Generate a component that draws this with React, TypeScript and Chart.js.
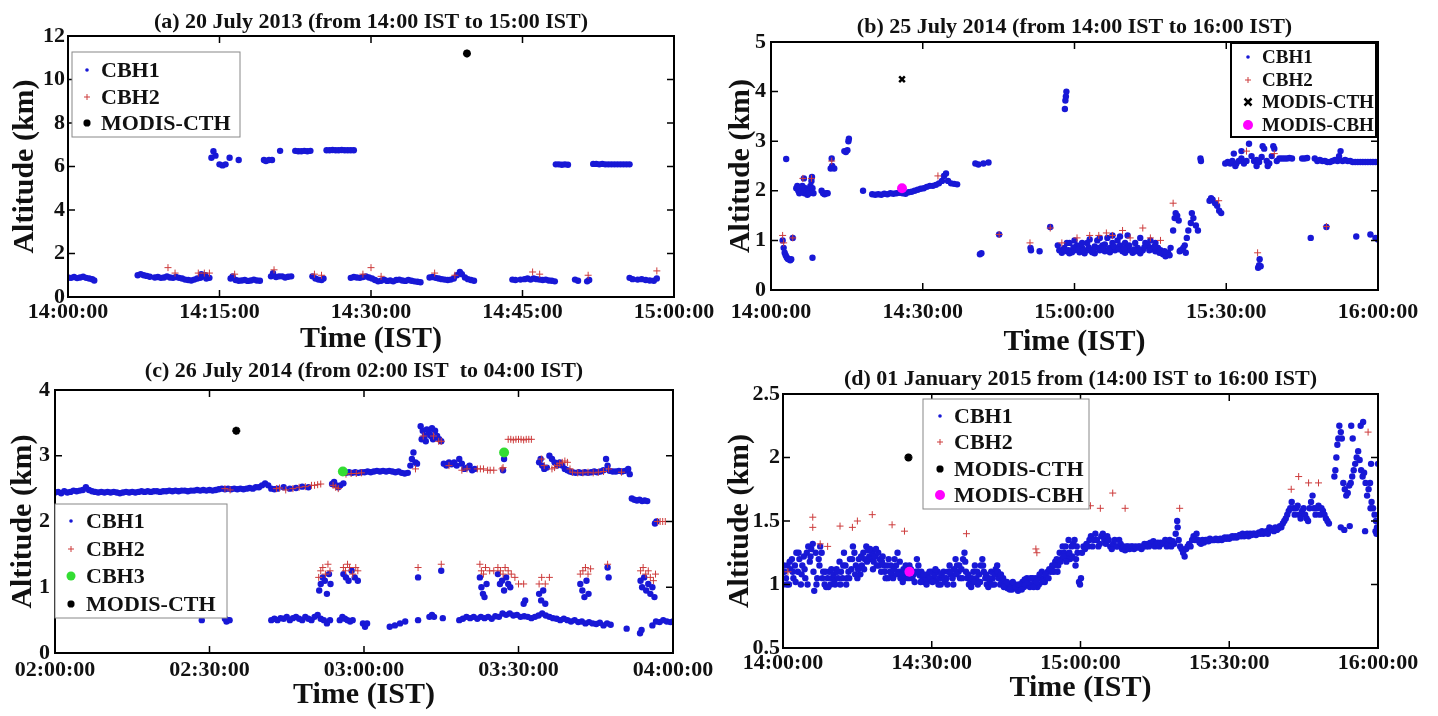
import React, { useEffect, useRef } from 'react';
import { Chart, registerables } from 'chart.js';
Chart.register(...registerables);

type P = [number, number];

// ---------- Panel (a) 20 July 2013, minutes after 14:00 ----------
const aCbh1: P[] = [
  [0,0.9],[0.3,0.88],[0.6,0.92],[0.9,0.87],[1.2,0.9],[1.5,0.93],[1.8,0.88],[2.1,0.85],[2.4,0.82],[2.6,0.76],
  [6.9,1.0],[7.2,1.05],[7.5,1.0],[7.8,0.97],[8.1,0.93],
  [8.6,0.9],[8.9,0.92],[9.2,0.88],[9.5,0.9],[9.8,0.95],[10.1,0.9],[10.4,0.88],[10.7,0.92],[11.0,0.88],[11.3,0.85],[11.6,0.8],[11.9,0.78],[12.2,0.76],[12.5,0.8],[12.8,0.85],[13.1,0.88],[13.4,0.95],[13.7,0.85],[14.0,0.88],[13.2,1.05],[13.6,1.0],
  [16.1,0.85],[16.3,0.95],[16.6,0.78],[16.9,0.75],[17.2,0.76],[17.5,0.78],[17.8,0.74],[18.1,0.76],[18.4,0.8],[18.7,0.76],[19.0,0.75],
  [20.1,0.95],[20.3,1.1],[20.6,0.92],[20.9,0.95],[21.2,0.95],[21.5,0.9],[21.8,0.93],[22.1,0.95],
  [24.2,0.95],[24.5,0.85],[24.8,0.8],[25.1,0.78],[25.3,0.85],
  [28.0,0.88],[28.3,0.92],[28.6,0.9],[28.9,0.88],[29.2,0.92],[29.5,0.95],[29.8,0.9],
  [30.1,0.85],[30.4,0.78],[30.7,0.72],[31.0,0.75],[31.3,0.8],[31.6,0.74],[31.9,0.76],[32.2,0.72],[32.5,0.78],[32.8,0.8],[33.1,0.76],[33.4,0.74],[33.7,0.78],[34.0,0.75],[34.3,0.72],[34.6,0.7],[34.9,0.68],
  [35.8,0.9],[36.1,0.92],[36.4,0.88],[36.7,0.85],[37.0,0.82],[37.3,0.8],[37.6,0.78],[37.9,0.8],[38.2,0.85],[38.5,1.0],[38.8,1.15],[39.0,1.05],[39.3,0.9],[39.6,0.82],[39.9,0.78],[40.2,0.75],
  [44.0,0.8],[44.3,0.78],[44.8,0.8],[45.2,0.82],[45.5,0.85],[45.8,0.8],[46.1,0.85],[46.4,0.82],[46.7,0.8],[47.0,0.78],[47.3,0.8],[47.6,0.76],[47.9,0.75],[48.2,0.72],
  [50.2,0.8],[50.5,0.75],[51.4,0.72],[51.6,0.78],
  [55.6,0.88],[55.9,0.82],[56.4,0.8],[56.8,0.82],[57.2,0.78],[57.6,0.76],[58.0,0.75],[58.3,0.85],
  [14.2,6.4],[14.4,6.7],[14.6,6.5],[15.0,6.1],[15.3,6.05],[15.6,6.1],[16.0,6.4],[16.9,6.3],
  [19.4,6.3],[19.6,6.25],[19.9,6.3],[20.2,6.3],[21.0,6.72],
  [22.5,6.72],[22.8,6.7],[23.1,6.7],[23.4,6.72],[23.7,6.7],[24.0,6.72],
  [25.6,6.75],[25.9,6.75],[26.2,6.76],[26.5,6.75],[26.8,6.75],[27.1,6.76],[27.4,6.75],[27.7,6.75],[28.0,6.75],[28.3,6.75],
  [48.3,6.1],[48.6,6.1],[48.9,6.08],[49.2,6.1],[49.5,6.08],
  [52.0,6.12],[52.3,6.12],[52.6,6.1],[52.9,6.12],[53.2,6.1],[53.5,6.1],[53.8,6.1],[54.1,6.1],[54.4,6.1],[54.7,6.1],[55.0,6.1],[55.3,6.1],[55.6,6.1],
];
const aCbh2: P[] = [
  [9.9,1.35],[10.6,1.1],[12.9,1.1],[13.5,1.1],[14.0,1.1],[16.5,1.05],[20.4,1.25],[24.4,1.05],[25.1,1.0],
  [29.2,1.05],[30.0,1.35],[31.0,0.95],[36.3,1.1],[38.3,1.0],[46.0,1.15],[46.7,1.05],[51.5,1.0],[58.3,1.2],
];
const aCth: P[] = [[39.5,11.2]];

// ---------- Panel (b) 25 July 2014, minutes after 14:00 ----------
const bCbh1: P[] = [
  [2.3,1.0],[2.5,0.85],[2.7,0.75],[2.9,0.7],[3.1,0.66],[3.3,0.63],[3.5,0.62],[3.8,0.6],[4.0,0.62],[4.3,1.05],[3.0,2.64],
  [5.0,2.05],[5.2,2.1],[5.4,2.0],[5.6,1.95],[5.8,2.05],[6.0,2.0],[6.2,2.1],[6.4,1.98],[6.6,1.95],[6.8,2.05],[7.0,2.0],[7.2,1.92],[7.4,2.0],[7.6,1.95],[7.8,2.1],[8.0,2.2],[8.2,2.05],[8.4,1.95],[6.5,2.25],[8.1,2.28],[8.2,0.65],
  [10.0,2.0],[10.3,1.95],[10.6,1.93],[10.9,1.95],[11.2,1.95],
  [11.8,2.45],[12.1,2.5],[12.5,2.45],[12.0,2.65],
  [14.5,2.8],[14.8,2.78],[15.1,2.82],[15.3,3.0],[15.4,3.05],[18.2,2.0],
  [20.0,1.93],[20.6,1.92],[21.2,1.93],[21.8,1.92],[22.4,1.94],[23.0,1.93],[23.6,1.95],[24.2,1.94],[24.8,1.95],[25.4,1.96],[26.0,1.95],[26.6,1.94],[27.2,1.97],[27.8,1.98],[28.4,2.0],[29.0,2.02],[29.6,2.04],[30.2,2.05],[30.8,2.08],[31.4,2.1],[32.0,2.1],[32.6,2.12],[33.2,2.15],[33.8,2.2],[34.2,2.3],[34.6,2.35],[35.0,2.2],[35.6,2.15],[36.2,2.14],[36.8,2.13],
  [40.4,2.55],[41.0,2.53],[42.0,2.55],[43.0,2.57],[41.3,0.72],[41.6,0.74],[45.1,1.12],
  [51.3,0.85],[51.4,0.8],[53.1,0.78],[55.2,1.27],[56.7,0.9],[57.0,0.8],[58.1,3.65],[58.2,3.82],[58.3,3.9],[58.4,4.0],
  [57.5,0.75],[58.0,0.85],[58.5,0.78],[59.0,0.95],[59.5,0.76],[60.0,0.8],[60.5,0.9],[61.0,0.76],[61.5,0.85],[62.0,0.78],[62.5,0.95],[63.0,0.8],[63.5,0.76],[64.0,0.88],[64.5,1.0],[65.0,0.8],[65.5,0.9],[66.0,0.78],[66.5,1.05],[67.0,0.85],[67.5,0.95],[68.0,0.8],[68.5,1.0],[69.0,0.9],[69.5,0.78],[70.0,0.95],[70.5,0.85],[71.0,0.8],[71.5,0.75],[72.0,0.78],[72.5,0.85],[73.0,0.76],[73.5,0.8],[74.0,0.95],[74.5,0.9],[75.0,0.85],[75.5,0.82],[76.0,0.78],[76.5,0.85],[77.0,0.8],[77.5,0.72],[78.0,0.68],[78.5,0.75],[79.0,0.85],[79.5,1.2],[79.8,1.45],[80.0,1.55],[80.3,1.5],[80.6,1.4],[81.0,0.8],[81.5,0.85],[82.0,0.75],
  [58.5,0.95],[60.0,1.0],[61.5,0.95],[63.0,1.02],[65.0,1.05],[66.0,0.92],[67.5,1.1],[69.0,1.08],[70.5,1.1],[72.0,0.95],[73.0,1.05],[75.0,1.0],[76.0,0.95],
  [59.0,0.74],[62.0,0.74],[64.0,0.74],[67.0,0.76],[70.0,0.75],[73.0,0.74],
  [57.8,0.82],[58.8,0.8],[59.8,0.86],[60.8,0.82],[61.8,0.8],[62.8,0.86],[63.8,0.82],[64.8,0.85],[65.8,0.84],[66.8,0.8],[67.8,0.88],[68.8,0.82],[69.8,0.84],[70.8,0.9],[71.8,0.82],[72.8,0.8],[73.8,0.86],[74.8,0.8],[75.8,0.88],[76.8,0.75],[77.8,0.78],[78.8,0.7],[80.8,0.78],[81.8,0.9],[82.2,1.05],
  [82.5,1.2],[83.0,1.35],[83.5,1.45],[84.0,1.3],[84.4,1.2],[83.2,1.55],[84.9,2.65],[85.0,2.6],
  [86.7,1.8],[87.0,1.85],[87.3,1.82],[87.8,1.75],[88.2,1.7],[88.6,1.6],[89.0,1.55],
  [89.8,2.55],[90.3,2.58],[90.8,2.55],[91.2,2.6],[91.5,2.75],[92.0,2.55],[92.5,2.6],[93.0,2.65],[93.5,2.55],[94.0,2.6],[94.5,2.95],[95.0,2.7],[95.5,2.6],[96.0,2.62],[96.5,2.58],[97.0,2.68],[97.5,2.85],[98.0,2.6],[98.5,2.55],[99.0,2.7],[99.5,2.85],[100.0,2.6],[100.5,2.65],[101.0,2.65],[101.5,2.65],[102.0,2.65],[102.5,2.66],[103.0,2.65],[105.0,2.65],[105.5,2.65],[106.0,2.66],[107.5,2.65],[108.0,2.6],[108.5,2.62],[109.0,2.6],[109.5,2.6],[110.0,2.58],[110.5,2.58],[111.0,2.6],[111.5,2.62],[112.0,2.6],[112.3,2.7],[112.6,2.8],[113.0,2.6],[113.5,2.62],[114.0,2.6],[114.5,2.6],[115.0,2.58],[115.5,2.58],[116.0,2.58],[116.5,2.58],[117.0,2.58],[117.5,2.58],[118.0,2.58],[118.5,2.58],[119.0,2.58],[119.5,2.58],[120,2.58],
  [91.8,2.5],[96.0,2.5],[98.2,2.5],[93.0,2.8],[97.2,2.9],[99.3,2.9],
  [96.3,0.45],[96.5,0.5],[96.8,0.48],[96.6,0.62],[106.7,1.05],[109.8,1.27],[115.7,1.08],[118.5,1.12],[119.5,1.05],[120,1.02],
];
const bCbh2: P[] = [
  [2.3,1.1],[2.5,0.95],[4.3,1.05],[6.3,2.25],[8.0,2.25],[12.0,2.6],[33.0,2.3],[45.1,1.12],[51.2,0.95],[55.2,1.25],[57.5,0.95],[60.5,1.05],[63.0,1.1],[64.8,1.1],[66.3,1.15],[67.5,1.1],[69.5,1.2],[71.0,1.05],[73.5,1.25],[75.0,1.05],[77.0,1.0],[79.5,1.75],[88.5,1.8],[96.2,0.75],[109.8,1.28],[94.0,2.8],[99.5,2.75],
];
const bCth: P[] = [[25.9,4.25]];
const bModisCbh: P[] = [[25.9,2.05]];

// ---------- Panel (c) 26 July 2014, minutes after 02:00 ----------
const cCbh1: P[] = [
  [0,2.44],[0.6,2.45],[1.2,2.43],[1.8,2.46],[2.4,2.44],[3.0,2.45],[3.6,2.47],[4.2,2.46],[4.8,2.47],[5.4,2.48],[6.0,2.52],[6.6,2.48],[7.2,2.46],[7.8,2.45],[8.4,2.44],[9.0,2.45],[9.6,2.44],[10.2,2.45],[10.8,2.44],[11.4,2.45],[12.0,2.44],[12.6,2.43],[13.2,2.44],[13.8,2.45],[14.4,2.44],[15.0,2.45],[15.6,2.44],[16.2,2.45],[16.8,2.46],[17.4,2.45],[18.0,2.46],[18.6,2.45],[19.2,2.46],[19.8,2.46],[20.4,2.45],[21.0,2.46],[21.6,2.46],[22.2,2.47],[22.8,2.46],[23.4,2.47],[24.0,2.46],[24.6,2.47],[25.2,2.47],[25.8,2.46],[26.4,2.47],[27.0,2.47],[27.6,2.48],[28.2,2.47],[28.8,2.48],[29.4,2.47],[30.0,2.48],[30.6,2.47],[31.2,2.48],[31.8,2.49],[32.4,2.5],[33.0,2.49],[33.6,2.5],[34.2,2.49],[34.8,2.5],[35.4,2.49],[36.0,2.5],[36.6,2.49],[37.2,2.5],[37.8,2.51],[38.4,2.5],[39.0,2.52],[39.6,2.52],[40.2,2.55],[40.8,2.58],[41.4,2.55],[42.0,2.5],[42.6,2.49],[43.2,2.5],[44.4,2.52],[45.6,2.5],[46.8,2.51],[48.0,2.53],[49.2,2.52],[53.8,2.57],[54.2,2.6],[54.6,2.55],[55.0,2.52],[55.4,2.55],[56.0,2.58],
  [56.5,2.74],[57.1,2.75],[57.7,2.74],[58.3,2.75],[58.9,2.74],[59.5,2.75],[60.1,2.75],[60.7,2.76],[61.3,2.75],[61.9,2.76],[62.5,2.77],[63.1,2.76],[63.7,2.77],[64.3,2.76],[64.9,2.77],[65.5,2.76],[66.1,2.75],[66.7,2.76],[67.3,2.74],[67.9,2.73],[68.5,2.74],
  [69.0,2.85],[69.3,2.95],[69.6,3.05],[70.0,2.9],[70.3,2.88],
  [71.0,3.45],[71.4,3.38],[71.8,3.3],[72.2,3.4],[72.6,3.35],[73.0,3.3],[73.4,3.25],[73.8,3.38],[74.2,3.3],[74.6,3.25],[75.0,3.22],[71.2,3.25],[72.0,3.22],[73.2,3.42],
  [75.5,2.88],[76.0,2.85],[76.5,2.9],[77.0,2.87],[77.5,2.9],[78.0,2.85],[78.5,2.95],[79.0,2.88],[79.5,2.8],[80.0,2.82],[80.5,2.85],[81.0,2.78],[81.5,2.8],
  [87.0,2.78],[87.2,2.95],
  [94.0,2.9],[94.3,2.95],[94.6,2.85],[95.0,2.8],[95.5,2.82],[96.0,3.0],[96.5,2.95],[97.0,2.9],[97.5,2.85],[98.0,2.9],[98.5,2.85],[99.0,2.8],[99.5,2.78],[100.0,2.76],
  [100.5,2.75],[101.1,2.74],[101.7,2.75],[102.3,2.74],[102.9,2.75],[103.5,2.74],[104.1,2.75],[104.7,2.76],[105.3,2.75],[105.9,2.76],[106.5,2.78],[107.0,2.95],[107.3,2.85],[107.7,2.77],[108.3,2.76],[108.9,2.76],[109.5,2.77],[110.1,2.76],[110.7,2.77],[111.3,2.8],[111.6,2.72],
  [112.0,2.35],[112.5,2.33],[113.0,2.32],[113.5,2.33],[114.0,2.31],[114.5,2.32],[115.0,2.31],
  [116.5,1.97],[116.8,2.0],
  [28.5,0.5],[33.0,0.52],[33.3,0.48],[33.6,0.5],[33.9,0.5],
  [42.0,0.5],[42.6,0.52],[43.2,0.5],[43.8,0.53],[44.4,0.52],[45.0,0.55],[45.6,0.5],[46.2,0.53],[46.8,0.55],[47.4,0.52],[48.0,0.5],[48.6,0.55],[49.2,0.52],[49.8,0.5],[50.4,0.55],[51.0,0.58],[51.6,0.52],[52.2,0.5],[52.8,0.45],[53.4,0.5],
  [55.3,0.5],[55.8,0.55],[56.3,0.52],[56.8,0.5],[57.3,0.48],[57.8,0.5],
  [59.8,0.45],[60.2,0.4],[60.6,0.45],
  [65.0,0.4],[66.0,0.42],[67.0,0.45],[68.0,0.48],[70.5,0.5],[72.7,0.55],[73.2,0.58],[73.6,0.55],[75.3,0.53],
  [78.5,0.5],[79.2,0.52],[79.9,0.55],[80.6,0.53],[81.3,0.55],[82.0,0.52],[82.7,0.55],[83.4,0.53],[84.1,0.55],[84.8,0.52],[85.5,0.56],[86.2,0.55],[86.9,0.6],[87.6,0.58],[88.3,0.6],[89.0,0.57],[89.7,0.58],[90.4,0.55],[91.1,0.56],[91.8,0.55],[92.5,0.53],[93.2,0.55],[93.9,0.57],[94.6,0.6],[95.3,0.57],[96.0,0.55],[96.7,0.53],[97.4,0.52],[98.1,0.5],[98.8,0.52],[99.5,0.5],[100.2,0.48],[100.9,0.5],[101.6,0.47],[102.3,0.48],[103.0,0.45],[103.7,0.47],[104.4,0.45],[105.1,0.44],[105.8,0.46],[106.5,0.42],[107.2,0.45],[107.9,0.43],
  [111.0,0.37],[113.6,0.3],[113.9,0.35],
  [116.0,0.42],[116.7,0.48],[117.4,0.47],[118.1,0.5],[118.8,0.48],[119.5,0.47],[120,0.48],
  [51.3,0.95],[51.6,1.05],[52.0,1.15],[52.4,1.1],[52.8,0.9],[53.2,1.2],[53.5,1.05],[56.0,1.2],[56.5,1.15],[57.0,1.1],[57.6,1.25],[58.2,1.15],[58.8,1.1],[70.5,1.15],[75.0,1.25],
  [82.5,1.15],[82.8,1.0],[83.1,0.9],[83.4,0.85],[83.8,1.05],[86.0,1.2],[86.4,1.05],[86.8,1.1],[87.2,0.95],[87.6,1.15],[88.0,1.05],[88.4,1.0],[91.0,0.75],[91.3,0.8],
  [94.0,0.9],[94.4,0.8],[94.8,0.95],[95.2,0.75],[102.0,1.05],[102.4,0.95],[102.8,0.85],[103.2,1.1],[103.6,0.9],[107.5,1.15],[107.3,1.3],
  [113.7,1.1],[114.0,1.0],[114.4,1.15],[114.8,0.95],[115.2,1.05],[115.6,0.9],[116.0,1.0],[116.4,0.85],
];
const cCbh2: P[] = [
  [33.0,2.5],[34.0,2.48],[43.0,2.5],[43.6,2.51],[44.8,2.48],[46.2,2.5],[47.4,2.52],[48.6,2.53],[49.8,2.55],[50.4,2.55],[51.0,2.56],[51.6,2.57],[54.0,2.55],[54.5,2.52],[55.0,2.5],
  [56.5,2.72],[57.5,2.73],[58.5,2.73],[59.5,2.74],[70.0,2.8],[71.5,3.3],[73.5,3.3],[74.5,3.22],[75.0,3.22],[76.5,2.85],
  [79.0,2.78],[80.0,2.8],[82.0,2.8],[82.6,2.8],[83.2,2.8],[84.0,2.78],[84.5,2.78],[85.2,2.78],[86.8,2.8],[87.0,2.82],
  [88.0,3.25],[88.5,3.25],[89.0,3.24],[89.5,3.25],[90.0,3.25],[90.5,3.25],[91.0,3.24],[91.5,3.25],[92.0,3.25],[92.5,3.25],
  [94.5,2.95],[95.0,2.85],[96.5,2.8],[97.0,2.82],[97.5,2.85],[98.0,2.88],[98.5,2.9],[99.0,2.92],[99.5,2.9],[100.0,2.8],[100.5,2.75],[101.5,2.74],[102.5,2.74],[103.5,2.75],[104.5,2.74],[105.5,2.75],[106.5,2.76],[107.5,2.8],[110.0,2.75],
  [117.0,2.0],[117.5,2.0],[118.0,2.0],[118.5,2.0],
  [51.2,1.15],[51.6,1.25],[52.0,1.3],[52.5,1.2],[53.0,1.35],[53.4,1.25],[56.0,1.3],[56.4,1.25],[56.8,1.35],[57.2,1.3],[57.8,1.2],[58.4,1.3],[58.8,1.25],[70.5,1.3],[75.0,1.35],
  [82.5,1.35],[82.8,1.25],[83.2,1.2],[83.6,1.3],[84.4,1.25],[85.2,1.25],[86.0,1.3],[86.5,1.25],[87.0,1.2],[87.4,1.3],[88.0,1.25],[88.6,1.2],[89.3,1.15],[90.0,1.05],[91.0,1.05],
  [94.0,1.05],[94.5,1.15],[95.2,1.05],[96.0,1.15],[102.0,1.2],[102.5,1.25],[103.0,1.3],[103.5,1.2],[104.0,1.28],[107.3,1.35],
  [113.7,1.25],[114.2,1.3],[114.7,1.2],[115.2,1.25],[115.6,1.15],[116.2,1.1],[116.6,1.2],
];
const cCbh3: P[] = [[55.9,2.76],[87.2,3.05]];
const cCth: P[] = [[35.2,3.38]];

// ---------- Panel (d) 01 January 2015, minutes after 14:00 ----------
const dCbh1: P[] = [
  [0,1.0],[0.3,1.1],[0.6,1.05],[0.9,1.15],[1.2,1.0],[1.5,1.12],[1.8,1.2],[2.1,1.05],[2.4,1.15],[2.7,1.25],[3.0,1.1],[3.3,1.2],[3.6,1.0],[3.9,1.15],[4.2,1.22],[4.5,1.05],[4.8,1.25],[5.1,1.3],[5.4,1.18],[5.7,1.28],[6.0,1.32],[6.3,0.95],[6.6,1.25],[6.9,1.05],[7.2,1.2],[7.5,1.3],[7.8,1.25],[8.1,1.1],[8.4,1.0],[8.7,0.98],[9.0,1.05],[9.3,1.1],[9.6,1.0],[9.9,1.05],
  [10.2,1.08],[10.5,1.0],[10.8,1.12],[11.1,1.05],[11.4,1.18],[11.7,1.1],[12.0,1.05],[12.3,1.25],[12.6,1.15],[12.9,1.05],[13.2,1.1],[13.5,1.2],[13.8,1.12],[14.1,1.3],[14.4,1.25],[14.7,1.15],[15.0,1.05],[15.3,1.2],[15.6,1.08],[15.9,1.15],[16.2,1.25],[16.5,1.2],[16.8,1.3],[17.1,1.27],[17.4,1.22],[17.7,1.2],[18.0,1.25],[18.3,1.18],[18.6,1.22],[18.9,1.15],[19.2,1.25],[19.5,1.2],[19.8,1.1],
  [20.1,1.22],[20.4,1.15],[20.7,1.05],[21.0,1.15],[21.3,1.2],[21.6,1.1],[21.9,1.08],[22.2,1.05],[22.5,1.2],[22.8,1.15],[23.1,1.25],[23.4,1.1],[23.7,1.05],[24.0,1.08],[24.3,1.12],[24.6,1.05],[24.9,1.1],[25.2,1.08],[25.5,1.15],[25.8,1.12],[26.1,1.05],[26.4,1.08],[26.7,1.1],[27.0,1.2],[27.3,1.15],[27.6,1.07],[27.9,1.1],[28.2,1.05],[28.5,1.02],[28.8,1.05],[29.1,1.08],[29.4,1.03],[29.7,1.05],
  [30.0,1.1],[30.3,1.05],[30.6,1.08],[30.9,1.03],[31.2,1.1],[31.5,1.05],[31.8,1.0],[32.1,1.05],[32.4,1.1],[32.7,1.02],[33.0,1.05],[33.3,1.1],[33.6,1.15],[33.9,1.08],[34.2,1.05],[34.5,1.12],[34.8,1.2],[35.1,1.15],[35.4,1.1],[35.7,1.05],[36.0,1.12],[36.3,1.2],[36.6,1.25],[36.9,1.1],[37.2,1.05],[37.5,1.0],[37.8,1.02],[38.1,1.05],[38.4,1.1],[38.7,1.15],[39.0,1.05],[39.3,1.0],[39.6,1.08],[39.9,1.15],
  [40.2,1.2],[40.5,1.1],[40.8,1.05],[41.1,1.0],[41.4,0.98],[41.7,1.02],[42.0,1.1],[42.3,1.05],[42.6,1.0],[42.9,1.12],[43.2,1.15],[43.5,1.05],[43.8,1.0],[44.1,1.02],[44.4,1.05],[44.7,1.0],[45.0,0.98],[45.3,0.97],[45.6,1.0],[45.9,0.98],[46.2,0.96],[46.5,0.98],[46.8,1.0],[47.1,0.97],[47.4,0.95],[47.7,0.97],[48.0,1.0],[48.3,1.02],[48.6,0.98],[48.9,1.0],[49.2,1.05],[49.5,1.0],[49.8,0.98],
  [50.1,1.0],[50.4,1.05],[50.7,1.02],[51.0,1.05],[51.3,0.98],[51.6,1.0],[51.9,1.05],[52.2,1.1],[52.5,1.05],[52.8,1.02],[53.1,1.05],[53.4,1.1],[53.7,1.12],[54.0,1.1],[54.3,1.15],[54.6,1.1],[54.9,1.18],[55.2,1.2],[55.5,1.15],[55.8,1.25],[56.1,1.2],[56.4,1.3],[56.7,1.25],[57.0,1.3],[57.3,1.22],[57.6,1.35],[57.9,1.2],[58.2,1.3],[58.5,1.32],[58.8,1.35],[59.0,1.15],[59.1,1.2],[59.4,1.25],[59.7,1.02],[59.9,1.0],[60.1,1.05],
  [0.15,1.15],[0.75,1.0],[1.35,1.18],[1.95,1.1],[2.55,1.02],[3.15,1.25],[3.75,1.08],[4.35,1.12],[4.95,1.0],[5.55,1.22],[6.15,1.1],[6.75,1.0],[7.35,1.15],[7.95,1.05],[8.55,1.1],[9.15,0.98],[9.75,1.12],[10.35,1.02],[10.95,1.1],[11.55,1.0],[12.15,1.15],[12.75,1.0],[13.35,1.05],[13.95,1.2],[14.55,1.08],[15.15,1.12],[15.75,1.22],[16.35,1.12],[16.95,1.18],[17.55,1.28],[18.15,1.12],[18.75,1.28],[19.35,1.15],[19.95,1.18],
  [20.55,1.1],[21.15,1.05],[21.75,1.15],[22.35,1.12],[22.95,1.08],[23.55,1.18],[24.15,1.02],[24.75,1.15],[25.35,1.05],[25.95,1.1],[26.55,1.02],[27.15,1.1],[27.75,1.02],[28.35,1.08],[28.95,1.0],[29.55,1.1],[30.15,1.02],[30.75,1.12],[31.35,1.0],[31.95,1.08],[32.55,1.05],[33.15,1.0],[33.75,1.1],[34.35,1.0],[34.95,1.08],[35.55,1.15],[36.15,1.05],[36.75,1.18],[37.35,1.08],[37.95,0.98],[38.55,1.02],[39.15,1.1],[39.75,1.02],
  [40.35,1.15],[40.95,1.08],[41.55,1.05],[42.15,1.0],[42.75,1.08],[43.35,1.1],[43.95,1.08],[44.55,0.98],[45.15,1.02],[45.75,0.96],[46.35,1.02],[46.95,0.98],[47.55,1.0],[48.15,0.96],[48.75,1.04],[49.35,1.02],[49.95,1.05],[50.55,0.98],[51.15,1.02],[51.75,1.08],[52.35,1.02],[52.95,1.08],[53.55,1.05],[54.15,1.12],[54.75,1.15],[55.35,1.1],[55.95,1.18],[56.55,1.22],[57.15,1.18],[57.75,1.25],[58.35,1.22],[59.25,1.3],
  [60.3,1.25],[60.6,1.3],[60.9,1.28],[61.2,1.32],[61.5,1.3],[61.8,1.35],[62.1,1.38],[62.4,1.3],[62.7,1.35],[63.0,1.4],[63.3,1.35],[63.6,1.3],[63.9,1.32],[64.2,1.38],[64.5,1.4],[64.8,1.35],[65.1,1.32],[65.4,1.38],[65.7,1.35],[66.0,1.3],[66.3,1.28],[66.6,1.32],[66.9,1.35],[67.2,1.3],[67.5,1.3],[67.8,1.35],[68.1,1.32],[68.4,1.28],[68.7,1.3],[69.0,1.27],[69.3,1.3],[69.6,1.3],[69.9,1.28],
  [70.2,1.3],[70.5,1.3],[70.8,1.28],[71.1,1.3],[71.4,1.29],[71.7,1.3],[72.0,1.3],[72.3,1.28],[72.6,1.3],[72.9,1.32],[73.2,1.3],[73.5,1.32],[73.8,1.3],[74.1,1.33],[74.4,1.32],[74.7,1.34],[75.0,1.3],[75.3,1.32],[75.6,1.33],[75.9,1.3],[76.2,1.33],[76.5,1.32],[76.8,1.33],[77.1,1.35],[77.4,1.3],[77.7,1.32],[78.0,1.35],[78.3,1.3],[78.6,1.34],[78.9,1.32],[79.2,1.4],[79.5,1.5],[79.6,1.45],[79.8,1.35],
  [80.1,1.3],[80.4,1.28],[80.7,1.25],[81.0,1.22],[81.3,1.28],[81.6,1.3],[81.9,1.32],[82.2,1.3],[82.5,1.35],[82.8,1.38],[83.1,1.35],[83.4,1.4],[83.7,1.35],[84.0,1.33],[84.3,1.32],[84.6,1.35],[84.9,1.33],[85.2,1.35],[85.5,1.35],[85.8,1.34],[86.1,1.36],[86.4,1.35],[86.7,1.35],[87.0,1.35],[87.3,1.36],[87.6,1.35],[87.9,1.35],[88.2,1.36],[88.5,1.35],[88.8,1.36],[89.1,1.37],[89.4,1.36],[89.7,1.37],
  [90.0,1.36],[90.3,1.37],[90.6,1.38],[90.9,1.37],[91.2,1.38],[91.5,1.37],[91.8,1.38],[92.1,1.39],[92.4,1.38],[92.7,1.4],[93.0,1.38],[93.3,1.39],[93.6,1.4],[93.9,1.38],[94.2,1.4],[94.5,1.39],[94.8,1.4],[95.1,1.4],[95.4,1.39],[95.7,1.4],[96.0,1.41],[96.3,1.4],[96.6,1.42],[96.9,1.4],[97.2,1.41],[97.5,1.42],[97.8,1.4],[98.1,1.45],[98.4,1.43],[98.7,1.44],[99.0,1.42],[99.3,1.45],[99.6,1.43],[99.9,1.44],
  [100.2,1.46],[100.5,1.45],[100.8,1.48],[101.1,1.5],[101.4,1.52],[101.7,1.55],[102.0,1.58],[102.3,1.6],[102.6,1.65],[102.9,1.6],[103.2,1.55],[103.5,1.6],[103.8,1.62],[104.1,1.55],[104.4,1.52],[104.7,1.58],[105.0,1.6],[105.3,1.55],[105.6,1.52],[105.9,1.5],[106.2,1.6],[106.5,1.65],[106.8,1.7],[107.1,1.6],[107.4,1.55],[107.7,1.6],[108.0,1.62],[108.3,1.55],[108.6,1.6],[108.9,1.58],[109.2,1.55],[109.5,1.52],[109.8,1.5],[110.1,1.48],
  [111.2,1.85],[111.4,1.9],[111.6,2.0],[111.8,2.1],[112.0,2.15],[112.2,2.25],[112.5,2.2],[112.7,2.15],[112.5,1.45],[113.0,1.8],[113.3,1.75],[113.6,1.7],[113.9,1.72],[114.2,1.78],[114.5,1.8],[114.8,1.85],[115.1,1.9],[115.4,1.95],[115.7,2.0],[116.0,2.05],[116.3,1.98],[116.6,1.9],[116.9,1.85],[117.2,1.88],[117.5,1.8],[117.8,1.7],[118.1,1.75],[118.4,1.8],[118.7,1.65],[119.0,1.6],[119.3,1.55],[119.6,1.5],[119.8,1.45],[120,1.95],
  [114.6,2.25],[114.9,2.15],[116.5,2.25],[117.0,2.28],[114.3,1.46],[117.4,1.42],[119.5,1.42],[113.2,1.43],[118.5,1.6],[118.6,1.95],[119.7,1.4],
];
const dCbh2: P[] = [
  [1.0,1.1],[6.0,1.53],[6.0,1.45],[7.5,1.32],[9.0,1.3],[11.5,1.46],[14.0,1.45],[15.0,1.5],[18.0,1.55],[22.0,1.47],[24.5,1.42],[37.0,1.4],[51.0,1.28],[51.2,1.25],
  [62.0,1.62],[64.0,1.6],[66.5,1.72],[69.0,1.6],[80.0,1.6],[102.5,1.75],[104.0,1.85],[106.0,1.8],[108.0,1.8],[118.0,2.2],
];
const dCth: P[] = [[25.3,2.0]];
const dModisCbh: P[] = [[25.5,1.1]];

// ---------- styling / layout ----------
const FONT = "'Liberation Serif', 'Times New Roman', serif";
const BLUE = 'rgb(24,24,214)';
const RED = 'rgb(205,60,60)';
const BLACK = '#000';
const MAGENTA = '#ff00ff';
const GREEN = '#33dd33';

interface Series { label: string; data: P[]; style: string; color: string; r: number; lw: number; order: number; lr: number; llw: number }
interface Legend { x: number; y: number; w: number; h: number; rows: number[]; mx: number; tx: number; font: number; border: string; bw: number }
interface Panel {
  key: string; left: number; top: number; width: number; height: number;
  yW: number; rightPad: number; topPad: number; xH: number;
  title: string; titleY: number;
  xMax: number; xStep: number; baseHour: number;
  yMin: number; yMax: number; yStep: number;
  xTickPad: number; yTickPad: number; xTitlePB: number; yTitlePT: number;
  legend: Legend; series: Series[];
}

const cbh1 = (d: P[]): Series => ({ label: 'CBH1', data: d, style: 'circle', color: BLUE, r: 3.2, lw: 0, order: 3, lr: 1.8, llw: 0 });
const cbh2 = (d: P[]): Series => ({ label: 'CBH2', data: d, style: 'cross', color: RED, r: 3.5, lw: 1, order: 2, lr: 3, llw: 1 });
const cth = (d: P[], style = 'star'): Series => ({ label: 'MODIS-CTH', data: d, style, color: BLACK, r: 4, lw: 2.5, order: 0, lr: 3.5, llw: 2.5 });
const mcbh = (d: P[]): Series => ({ label: 'MODIS-CBH', data: d, style: 'circle', color: MAGENTA, r: 5, lw: 0, order: 0, lr: 5, llw: 0 });
const c3 = (d: P[]): Series => ({ label: 'CBH3', data: d, style: 'circle', color: GREEN, r: 5, lw: 0, order: 1, lr: 4.5, llw: 0 });

const panels: Panel[] = [
  {
    key: 'a', left: 0, top: 0, width: 720, height: 360, yW: 68, rightPad: 46, topPad: 36, xH: 63,
    title: '(a) 20 July 2013 (from 14:00 IST to 15:00 IST)', titleY: 22,
    xMax: 60, xStep: 15, baseHour: 14, yMin: 0, yMax: 12, yStep: 2,
    xTickPad: 2, yTickPad: 3, xTitlePB: 3, yTitlePT: 7,
    legend: { x: 72, y: 52, w: 168, h: 85, rows: [70, 97, 123], mx: 87, tx: 101, font: 22, border: '#888', bw: 1 },
    series: [cbh1(aCbh1), cbh2(aCbh2), cth(aCth)],
  },
  {
    key: 'b', left: 700, top: 0, width: 738, height: 360, yW: 71, rightPad: 60, topPad: 42, xH: 70,
    title: '(b) 25 July 2014 (from 14:00 IST to 16:00 IST)', titleY: 27,
    xMax: 120, xStep: 30, baseHour: 14, yMin: 0, yMax: 5, yStep: 1,
    xTickPad: 9, yTickPad: 5, xTitlePB: 0, yTitlePT: 23,
    legend: { x: 531, y: 43, w: 145, h: 94, rows: [57, 80, 102, 125], mx: 548, tx: 562, font: 19, border: '#000', bw: 2 },
    series: [cbh1(bCbh1), cbh2(bCbh2), cth(bCth, 'crossRot'), mcbh(bModisCbh)],
  },
  {
    key: 'c', left: 0, top: 350, width: 720, height: 366, yW: 55, rightPad: 47, topPad: 40, xH: 63,
    title: '(c) 26 July 2014 (from 02:00 IST  to 04:00 IST)', titleY: 21,
    xMax: 120, xStep: 30, baseHour: 2, yMin: 0, yMax: 4, yStep: 1,
    xTickPad: 4, yTickPad: 5, xTitlePB: 3, yTitlePT: 5,
    legend: { x: 55, y: 154, w: 172, h: 114, rows: [171, 199, 226, 254], mx: 71, tx: 86, font: 22, border: '#888', bw: 1 },
    series: [cbh1(cCbh1), cbh2(cCbh2), c3(cCbh3), cth(cCth)],
  },
  {
    key: 'd', left: 700, top: 350, width: 738, height: 366, yW: 83, rightPad: 60, topPad: 44, xH: 68,
    title: '(d) 01 January 2015 from (14:00 IST to 16:00 IST)', titleY: 29,
    xMax: 120, xStep: 30, baseHour: 14, yMin: 0.5, yMax: 2.5, yStep: 0.5,
    xTickPad: 2, yTickPad: 3, xTitlePB: 10, yTitlePT: 22,
    legend: { x: 223, y: 49, w: 166, h: 110, rows: [66, 92, 119, 145], mx: 240, tx: 254, font: 22, border: '#888', bw: 1 },
    series: [cbh1(dCbh1), cbh2(dCbh2), cth(dCth), mcbh(dModisCbh)],
  },
];

const pad2 = (n: number) => String(n).padStart(2, '0');
const timeLabel = (base: number) => (v: number | string) => {
  const t = base * 60 + Number(v);
  const h = Math.floor(t / 60);
  const m = Math.round(t - h * 60);
  return `${pad2(h)}:${pad2(m)}:00`;
};
const plainNum = (v: number | string) => String(Number(v));

function drawMarker(ctx: CanvasRenderingContext2D, style: string, x: number, y: number, r: number, color: string, lw: number) {
  ctx.save();
  ctx.fillStyle = color;
  ctx.strokeStyle = color;
  ctx.lineWidth = lw || 1;
  ctx.beginPath();
  if (style === 'circle') {
    ctx.arc(x, y, r, 0, Math.PI * 2);
    ctx.fill();
  } else if (style === 'cross') {
    ctx.moveTo(x - r, y); ctx.lineTo(x + r, y);
    ctx.moveTo(x, y - r); ctx.lineTo(x, y + r);
    ctx.stroke();
  } else if (style === 'crossRot') {
    ctx.moveTo(x - r, y - r); ctx.lineTo(x + r, y + r);
    ctx.moveTo(x + r, y - r); ctx.lineTo(x - r, y + r);
    ctx.stroke();
  } else {
    const d = r * 0.75;
    ctx.moveTo(x - r, y); ctx.lineTo(x + r, y);
    ctx.moveTo(x, y - r); ctx.lineTo(x, y + r);
    ctx.moveTo(x - d, y - d); ctx.lineTo(x + d, y + d);
    ctx.moveTo(x + d, y - d); ctx.lineTo(x - d, y + d);
    ctx.stroke();
  }
  ctx.restore();
}

function makeFramePlugin() {
  return {
    id: 'frameTicks',
    afterDatasetsDraw(chart: any) {
      const { ctx, chartArea: a, scales } = chart;
      const tl = 7;
      ctx.save();
      ctx.strokeStyle = '#000';
      ctx.lineWidth = 1.5;
      ctx.beginPath();
      for (const t of scales.x.ticks) {
        const px = scales.x.getPixelForValue(t.value);
        ctx.moveTo(px, a.bottom); ctx.lineTo(px, a.bottom - tl);
        ctx.moveTo(px, a.top); ctx.lineTo(px, a.top + tl);
      }
      for (const t of scales.y.ticks) {
        const py = scales.y.getPixelForValue(t.value);
        ctx.moveTo(a.left, py); ctx.lineTo(a.left + tl, py);
        ctx.moveTo(a.right, py); ctx.lineTo(a.right - tl, py);
      }
      ctx.stroke();
      ctx.lineWidth = 2;
      ctx.strokeRect(a.left, a.top, a.right - a.left, a.bottom - a.top);
      ctx.restore();
    },
  };
}

function makeTitlePlugin(p: Panel) {
  return {
    id: 'centeredTitle',
    afterDraw(chart: any) {
      const { ctx, chartArea: a } = chart;
      ctx.save();
      ctx.font = `bold 22px ${FONT}`;
      ctx.fillStyle = '#111';
      ctx.textAlign = 'center';
      ctx.textBaseline = 'middle';
      ctx.fillText(p.title, (a.left + a.right) / 2, p.titleY);
      ctx.restore();
    },
  };
}

function makeLegendPlugin(p: Panel) {
  return {
    id: 'boxLegend',
    afterDraw(chart: any) {
      const { ctx } = chart;
      const L = p.legend;
      ctx.save();
      ctx.fillStyle = '#fff';
      ctx.fillRect(L.x, L.y, L.w, L.h);
      ctx.strokeStyle = L.border;
      ctx.lineWidth = L.bw;
      ctx.strokeRect(L.x, L.y, L.w, L.h);
      ctx.font = `bold ${L.font}px ${FONT}`;
      ctx.textBaseline = 'middle';
      ctx.textAlign = 'left';
      p.series.forEach((s, i) => {
        const y = L.rows[i];
        drawMarker(ctx, s.style, L.mx, y, s.lr, s.color, s.llw);
        ctx.fillStyle = '#111';
        ctx.fillText(s.label, L.tx, y + 1);
      });
      ctx.restore();
    },
  };
}

function buildConfig(p: Panel): any {
  const datasets = p.series.map((s) => ({
    label: s.label,
    data: s.data.map(([x, y]) => ({ x, y })),
    pointStyle: s.style,
    pointRadius: s.r,
    pointBorderWidth: s.style === 'circle' ? 0 : s.lw,
    pointBackgroundColor: s.color,
    pointBorderColor: s.color,
    backgroundColor: s.color,
    borderColor: s.color,
    showLine: false,
    order: s.order,
  }));
  const tickFont = { family: FONT, size: 22, weight: 'bold' as const, lineHeight: 1.2 };
  const titleFont = { family: FONT, size: 30, weight: 'bold' as const, lineHeight: 1.2 };
  return {
    type: 'scatter',
    data: { datasets },
    options: {
      animation: false,
      responsive: false,
      maintainAspectRatio: false,
      events: [],
      layout: { padding: { left: 0, right: p.rightPad, top: p.topPad, bottom: 0 } },
      plugins: {
        legend: { display: false },
        tooltip: { enabled: false },
        title: { display: false },
      },
      scales: {
        x: {
          type: 'linear',
          min: 0,
          max: p.xMax,
          grid: { display: false, drawTicks: false },
          border: { display: false },
          ticks: {
            stepSize: p.xStep,
            autoSkip: false,
            maxRotation: 0,
            padding: p.xTickPad,
            color: '#111',
            font: tickFont,
            callback: timeLabel(p.baseHour),
          },
          title: { display: true, text: 'Time (IST)', color: '#111', font: titleFont, padding: { top: 0, bottom: p.xTitlePB } },
          afterFit: (s: any) => { s.height = p.xH; s.paddingLeft = 0; s.paddingRight = 0; },
        },
        y: {
          type: 'linear',
          min: p.yMin,
          max: p.yMax,
          grid: { display: false, drawTicks: false },
          border: { display: false },
          ticks: {
            stepSize: p.yStep,
            autoSkip: false,
            padding: p.yTickPad,
            color: '#111',
            font: tickFont,
            callback: plainNum,
          },
          title: { display: true, text: 'Altitude (km)', color: '#111', font: titleFont, padding: { top: p.yTitlePT, bottom: 0 } },
          afterFit: (s: any) => { s.width = p.yW; s.paddingTop = 0; s.paddingBottom = 0; },
        },
      },
    },
    plugins: [makeFramePlugin(), makeTitlePlugin(p), makeLegendPlugin(p)],
  };
}

function PanelChart({ p }: { p: Panel }) {
  const ref = useRef<HTMLCanvasElement | null>(null);
  useEffect(() => {
    if (!ref.current) return;
    const chart = new Chart(ref.current, buildConfig(p));
    return () => chart.destroy();
  }, [p]);
  return (
    <canvas
      ref={ref}
      width={p.width}
      height={p.height}
      style={{ position: 'absolute', left: p.left, top: p.top, width: p.width, height: p.height }}
    />
  );
}

export default function App() {
  return (
    <div style={{ position: 'absolute', left: 0, top: 0, width: 1438, height: 716, background: '#fff', overflow: 'hidden' }}>
      {panels.map((p) => (
        <PanelChart key={p.key} p={p} />
      ))}
    </div>
  );
}
